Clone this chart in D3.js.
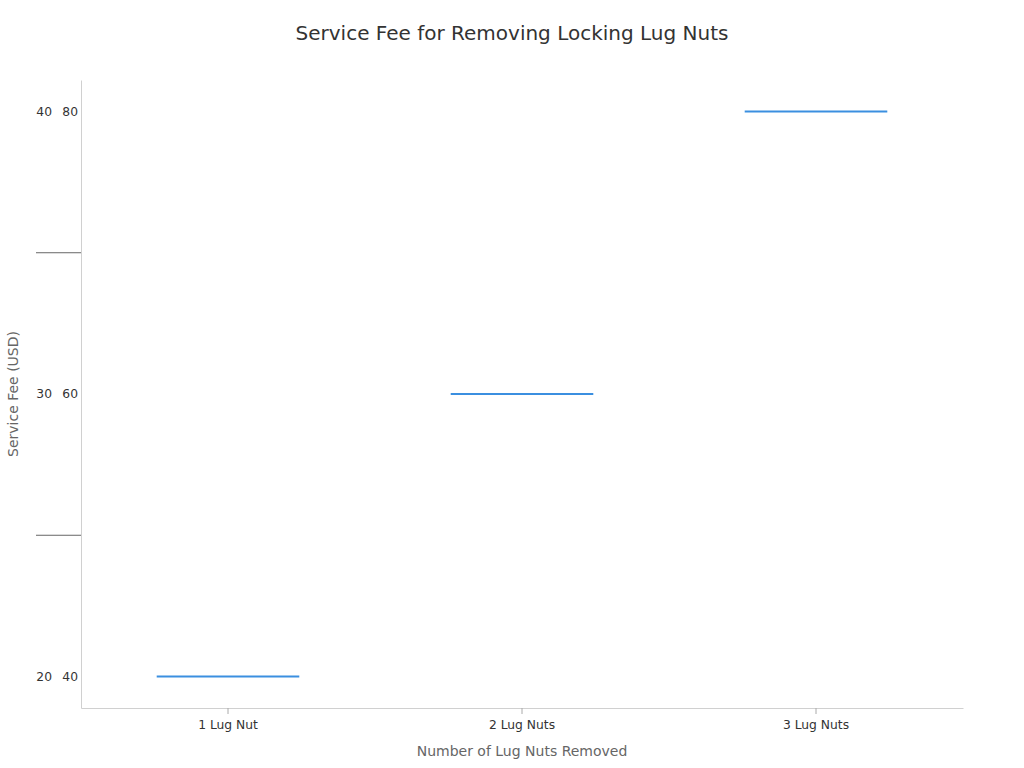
<!DOCTYPE html>
<html>
<head>
<meta charset="utf-8">
<script src="https://cdn.jsdelivr.net/npm/d3@7"></script>
<style>
  body { margin: 0; background: #fff; }
  text { font-family: "DejaVu Sans", sans-serif; }
</style>
</head>
<body>
<div id="chart"></div>
<script>
// values
const categories = ["1 Lug Nut", "2 Lug Nuts", "3 Lug Nuts"];
const fees = [40, 60, 80];
const yTicks = [40, 60, 80];
const yTickLabelsLeft = ["20", "30", "40"];
const yDividers = [50, 70];

const width = 1024;
const height = 768;
const margin = {top: 80, right: 61, bottom: 60, left: 81};

const svg = d3.select("#chart").append("svg")
  .attr("width", width)
  .attr("height", height);

const x = d3.scaleBand(categories, [margin.left, width - margin.right])
  .paddingInner(0.515)
  .paddingOuter(0.2575);

const y = d3.scaleLinear([37.77, 82.23], [height - margin.bottom, margin.top]);

// title
svg.append("text")
  .attr("x", width / 2)
  .attr("y", 40)
  .attr("text-anchor", "middle")
  .attr("font-size", 20)
  .attr("fill", "#333")
  .text("Service Fee for Removing Locking Lug Nuts");

// x axis
const gx = svg.append("g")
  .attr("transform", `translate(0,${height - margin.bottom})`)
  .call(d3.axisBottom(x).tickSize(6).tickSizeOuter(0).tickPadding(6));
gx.select(".domain").attr("stroke", "#d0d0d0");
gx.selectAll(".tick line").attr("stroke", "#aaa");
gx.selectAll(".tick text").attr("font-size", 12.3).attr("fill", "#333")
  .attr("font-family", "DejaVu Sans");

// y axis
const gy = svg.append("g")
  .attr("transform", `translate(${margin.left},0)`)
  .call(d3.axisLeft(y).tickValues(yTicks).tickSize(0).tickPadding(3));
gy.select(".domain").attr("stroke", "#d0d0d0");
gy.selectAll(".tick text").attr("font-size", 12.3).attr("fill", "#333")
  .attr("font-family", "DejaVu Sans");

// second label column
gy.selectAll(".tick")
  .append("text")
  .attr("x", -29)
  .attr("dy", "0.32em")
  .attr("fill", "#333")
  .attr("font-size", 12.3)
  .attr("font-family", "DejaVu Sans")
  .attr("text-anchor", "end")
  .text((d, i) => yTickLabelsLeft[i]);

// divider ticks
svg.append("g")
  .selectAll("line")
  .data(yDividers)
  .join("line")
  .attr("x1", 36)
  .attr("x2", margin.left)
  .attr("y1", d => y(d))
  .attr("y2", d => y(d))
  .attr("stroke", "#666")
  .attr("stroke-width", 1);

// fee lines
svg.append("g")
  .selectAll("line")
  .data(categories)
  .join("line")
  .attr("x1", d => x(d))
  .attr("x2", d => x(d) + x.bandwidth())
  .attr("y1", (d, i) => y(fees[i]))
  .attr("y2", (d, i) => y(fees[i]))
  .attr("stroke", "#3b8fe0")
  .attr("stroke-width", 2);

// axis titles
svg.append("text")
  .attr("x", (margin.left + width - margin.right) / 2)
  .attr("y", 756)
  .attr("text-anchor", "middle")
  .attr("font-size", 14)
  .attr("fill", "#666")
  .text("Number of Lug Nuts Removed");

svg.append("text")
  .attr("transform", `translate(18,${(margin.top + height - margin.bottom) / 2}) rotate(-90)`)
  .attr("text-anchor", "middle")
  .attr("font-size", 14)
  .attr("fill", "#666")
  .text("Service Fee (USD)");
</script>
</body>
</html>
